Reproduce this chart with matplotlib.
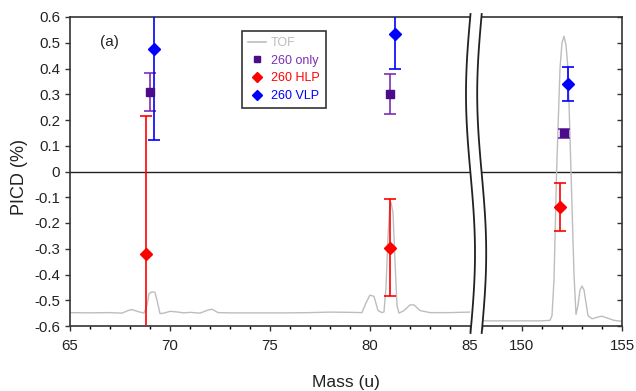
import numpy as np
import matplotlib.pyplot as plt
from matplotlib.lines import Line2D
from matplotlib.patches import Polygon
from matplotlib.ticker import MultipleLocator, FuncFormatter

plt.rcParams['font.family'] = ['Liberation Sans', 'DejaVu Sans']
plt.rcParams['axes.unicode_minus'] = False

# TOF trace, low-mass part (65-85 u)
tof_x_lo = [65.0, 66.0, 67.0, 67.6, 67.9, 68.1, 68.4, 68.7, 68.85, 68.95, 69.1, 69.25,
            69.35, 69.5, 69.7, 70.0, 70.3, 70.7, 71.0, 71.5, 71.9, 72.1, 72.4, 73.0,
            74.0, 75.0, 76.0, 77.0, 78.0, 79.0, 79.6, 79.8, 80.0, 80.2, 80.4, 80.6,
            80.7, 80.8, 80.9, 81.0, 81.05, 81.15, 81.25, 81.35, 81.45, 81.7, 82.0,
            82.2, 82.5, 83.0, 84.0, 85.0]
tof_y_lo = [-0.548, -0.549, -0.548, -0.550, -0.540, -0.536, -0.544, -0.550, -0.520,
            -0.475, -0.467, -0.470, -0.500, -0.552, -0.550, -0.543, -0.545, -0.549,
            -0.547, -0.550, -0.538, -0.535, -0.548, -0.549, -0.549, -0.549, -0.549,
            -0.548, -0.546, -0.547, -0.548, -0.510, -0.480, -0.485, -0.540, -0.548,
            -0.545, -0.450, -0.250, -0.130, -0.120, -0.160, -0.350, -0.520, -0.550,
            -0.540, -0.518, -0.518, -0.540, -0.548, -0.548, -0.546]

# TOF trace, parent region (148-155 u)
tof_x_hi = [148.0, 149.0, 150.0, 151.0, 151.4, 151.5, 151.6, 151.73, 151.9, 152.0,
            152.1, 152.2, 152.3, 152.45, 152.6, 152.7, 152.8, 152.9, 153.0, 153.1,
            153.2, 153.3, 153.5, 153.8, 154.0, 154.3, 154.6, 155.0]
tof_y_hi = [-0.580, -0.580, -0.580, -0.580, -0.578, -0.560, -0.420, 0.000, 0.400,
            0.500, 0.525, 0.490, 0.400, 0.000, -0.400, -0.555, -0.520, -0.460,
            -0.445, -0.460, -0.510, -0.560, -0.572, -0.565, -0.562, -0.570, -0.578,
            -0.582]

# PICD points: mass, value, error
only_x = [69.0, 81.02, 152.1]
only_y = [0.309, 0.300, 0.149]
only_err = [0.075, 0.078, 0.017]

hlp_x = [68.78, 81.0, 151.9]
hlp_y = [-0.322, -0.296, -0.137]
hlp_err = [0.538, 0.188, 0.093]

vlp_x = [69.18, 81.25, 152.3]
vlp_y = [0.476, 0.535, 0.340]
vlp_err = [0.352, 0.135, 0.067]

c_tof = '#bdbdbd'
c_only = '#4b0c8c'
c_only_err = '#7b2fb5'
c_hlp = '#ff0000'
c_vlp = '#0000ff'

W, H = 636, 391
fig = plt.figure(figsize=(W / 100, H / 100), dpi=100)
left_px, mid_l, mid_r, right_px = 70, 470, 482, 622
top_px, bot_px = 17, 326
ax1 = fig.add_axes([left_px / W, 1 - bot_px / H, (mid_l - left_px) / W, (bot_px - top_px) / H])
ax2 = fig.add_axes([mid_r / W, 1 - bot_px / H, (right_px - mid_r) / W, (bot_px - top_px) / H])


def draw_points(ax, lo, hi):
    for xs, ys, es, mk, fc, ec, ms in [
        (hlp_x, hlp_y, hlp_err, 'D', c_hlp, c_hlp, 6.5),
        (only_x, only_y, only_err, 's', c_only, c_only_err, 5.5),
        (vlp_x, vlp_y, vlp_err, 'D', c_vlp, c_vlp, 6.5),
    ]:
        sel = [i for i in range(len(xs)) if lo <= xs[i] <= hi]
        ax.errorbar([xs[i] for i in sel], [ys[i] for i in sel], yerr=[es[i] for i in sel],
                    fmt=mk, color=fc, mfc=fc, mec=fc, ms=ms, ecolor=ec,
                    elinewidth=1.2, capsize=4, capthick=1.2, zorder=4)


ax1.plot(tof_x_lo, tof_y_lo, color=c_tof, lw=1, zorder=2)
ax2.plot(tof_x_hi, tof_y_hi, color=c_tof, lw=1, zorder=2)
draw_points(ax1, 65, 85)
draw_points(ax2, 148, 155)

for ax in (ax1, ax2):
    ax.axhline(0, color='#222222', lw=1, zorder=1)
    ax.set_ylim(-0.6, 0.6)
    ax.yaxis.set_major_locator(MultipleLocator(0.1))
    ax.xaxis.set_major_locator(MultipleLocator(5))
    ax.xaxis.set_minor_locator(MultipleLocator(1))
    for s in ax.spines.values():
        s.set_color('#333333')
        s.set_linewidth(1.2)
    ax.tick_params(labelsize=10.8, colors='#333333', labelcolor='#222222')
    ax.tick_params(axis='x', which='major', pad=6)

ax1.set_xlim(65, 85)
ax1.spines['right'].set_visible(False)
ax1.tick_params(axis='both', which='major', direction='out', length=3.5, width=1)
ax1.tick_params(axis='x', which='minor', direction='out', length=2.5, width=1)
ax1.yaxis.set_major_formatter(FuncFormatter(lambda v, p: '%g' % round(v, 1)))

ax2.set_xlim(148, 155)
ax2.spines['left'].set_visible(False)
ax2.yaxis.tick_right()
ax2.tick_params(axis='y', which='major', direction='in', length=3.5, width=1, labelright=False)
ax2.tick_params(axis='x', which='major', direction='out', length=3.5, width=1)
ax2.tick_params(axis='x', which='minor', direction='out', length=2.5, width=1)

ax1.text(0.075, 0.905, '(a)', transform=ax1.transAxes, fontsize=11, color='#222222')

handles = [
    Line2D([], [], color=c_tof, lw=1.2),
    Line2D([], [], ls='none', marker='s', color=c_only, ms=5),
    Line2D([], [], ls='none', marker='D', color=c_hlp, ms=5.5),
    Line2D([], [], ls='none', marker='D', color=c_vlp, ms=5.5),
]
leg = ax1.legend(handles, ['TOF', '260 only', '260 HLP', '260 VLP'],
                 loc='upper left', bbox_to_anchor=(0.43, 0.955), borderaxespad=0,
                 fontsize=9, handlelength=1.4, handletextpad=0.4, labelspacing=0.45,
                 borderpad=0.5, fancybox=False, edgecolor='#333333', framealpha=1,
                 labelcolor=[c_tof, c_only_err, c_hlp, c_vlp])
leg.get_frame().set_linewidth(1.2)

# axis break marks between the two panels
t = np.linspace(0, 1, 60)
yy = 1 - (top_px - 3 + t * (bot_px - top_px + 10)) / H
amp = 4.5
xl = (mid_l + 0.5 - amp * np.sin(2 * np.pi * t)) / W
xr = (mid_r - 0.3 - amp * np.sin(2 * np.pi * t)) / W
fig.add_artist(Polygon(np.column_stack([np.r_[xl, xr[::-1]], np.r_[yy, yy[::-1]]]),
                       closed=True, facecolor='white', edgecolor='none', zorder=5))
fig.add_artist(Line2D(xl, yy, color='#222222', lw=1.3, zorder=6))
fig.add_artist(Line2D(xr, yy, color='#222222', lw=1.3, zorder=6))

fig.text(346 / W, 1 - 382 / H, 'Mass (u)', ha='center', va='center', fontsize=12.5, color='#222222')
fig.text(20 / W, 1 - 177 / H, 'PICD (%)', ha='center', va='center', rotation=90,
         fontsize=13, color='#222222')

fig.savefig('out.png', dpi=100)
